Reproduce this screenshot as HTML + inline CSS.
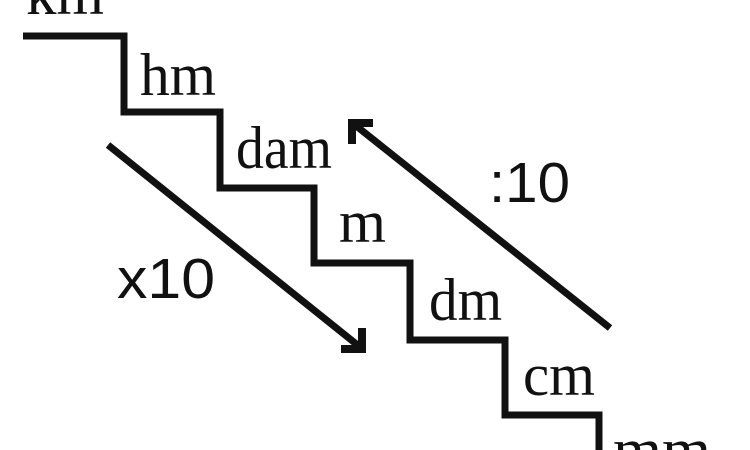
<!DOCTYPE html>
<html><head><meta charset="utf-8"><style>
html,body{margin:0;padding:0;background:#fff;width:750px;height:450px;overflow:hidden;}
svg{display:block;}
.s{font-family:"Liberation Serif",serif;font-size:60px;fill:#111;}
.a{font-family:"Liberation Sans",sans-serif;font-size:57px;fill:#111;}
</style></head><body>
<svg width="750" height="450" viewBox="0 0 750 450" xmlns="http://www.w3.org/2000/svg" overflow="hidden">
<rect width="750" height="450" fill="#fff"/>
<polyline points="23,36 124,36 124,112 220,112 220,188 314,188 314,263 410,263 410,340 505,340 505,415 599,415 599,450" fill="none" stroke="#111" stroke-width="7" stroke-linejoin="miter"/>
<line x1="108" y1="145" x2="360" y2="347" stroke="#111" stroke-width="7"/>
<polyline points="341,349 362,349 362,328" fill="none" stroke="#111" stroke-width="8" stroke-linejoin="miter"/>
<line x1="610" y1="328" x2="355" y2="125" stroke="#111" stroke-width="7"/>
<polyline points="373,123 352,123 352,144" fill="none" stroke="#111" stroke-width="8" stroke-linejoin="miter"/>
<text class="s" x="26" y="14" textLength="78" lengthAdjust="spacingAndGlyphs">km</text>
<text class="s" x="140" y="95" textLength="76" lengthAdjust="spacingAndGlyphs">hm</text>
<text class="s" x="236" y="168" textLength="96" lengthAdjust="spacingAndGlyphs">dam</text>
<text class="s" x="339" y="242" textLength="47" lengthAdjust="spacingAndGlyphs">m</text>
<text class="s" x="429" y="320" textLength="73" lengthAdjust="spacingAndGlyphs">dm</text>
<text class="s" x="523" y="395" textLength="72" lengthAdjust="spacingAndGlyphs">cm</text>
<text class="s" x="613" y="470" textLength="98" lengthAdjust="spacingAndGlyphs">mm</text>
<text class="a" x="117" y="298" textLength="98" lengthAdjust="spacingAndGlyphs">x10</text>
<text class="a" x="489" y="202" textLength="81" lengthAdjust="spacingAndGlyphs">:10</text>
</svg>
</body></html>
